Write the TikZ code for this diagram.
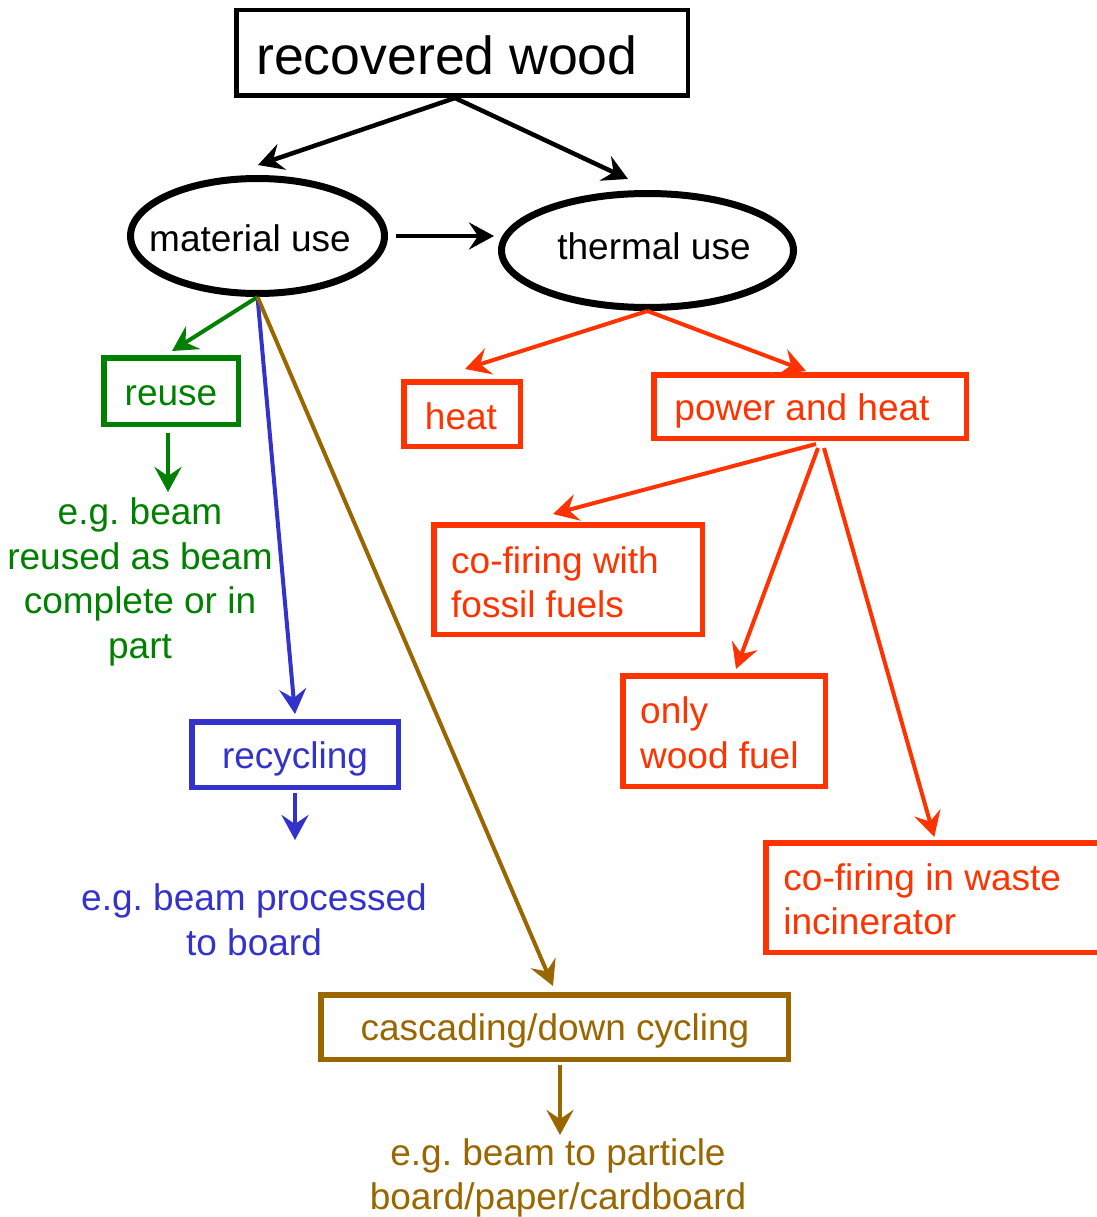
\documentclass[tikz,border=0pt]{standalone}
\usepackage{fontspec}
\setmainfont{Liberation Sans}
\usetikzlibrary{arrows.meta,shapes.geometric}
\definecolor{cgreen}{HTML}{008000}
\definecolor{cblue}{HTML}{3333CC}
\definecolor{cbrown}{HTML}{996600}
\definecolor{cred}{HTML}{FF3300}
\frenchspacing
\tikzset{
  tip/.style={-{Stealth[length=25pt,width=27pt,inset=9pt]}},
  box/.style={draw, line width=5.5pt, inner sep=0pt, rectangle},
  oval/.style={draw, line width=7pt, inner sep=0pt, ellipse},
  txt/.style={inner sep=0pt, font=\fontsize{37}{44.5}\selectfont},
  conn/.style={tip, line width=4pt},
  blk/.style={tip, line width=4.5pt},
}
\begin{document}
\begin{tikzpicture}[x=1pt,y=-1pt]
\useasboundingbox (0,0) rectangle (1096,1217);
% top
\node[box, line width=4.5pt, minimum width=451.5pt, minimum height=85.5pt] (rw) at (462,53) {};
\node[inner sep=0pt, font=\fontsize{53.6}{60}\selectfont] (rwt) at (447,55) {recovered wood};
\node[oval, minimum width=254pt, minimum height=115pt] (mat) at (257.5,236) {};
\node[txt] (matt) at (250,238) {material use};
\node[oval, minimum width=292pt, minimum height=114pt] (th) at (647.5,250.5) {};
\node[txt] (tht) at (654,246) {thermal use};
\draw[blk] ([xshift=-7pt]rw.south) -- ([xshift=0.5pt,yshift=10pt]mat.north);
\draw[blk] ([xshift=-7pt]rw.south) -- ([xshift=-19.5pt,yshift=11pt]th.north);
\draw[blk] ([xshift=8pt]mat.east) -- ([xshift=-4pt,yshift=14.5pt]th.west);
% green
\node[box, draw=cgreen, minimum width=134.5pt, minimum height=66.5pt] (reuse) at (171,391) {};
\node[txt, text=cgreen] (reuset) at (171,396) {reuse};
\draw[conn, cgreen] (mat.south) -- ([xshift=1pt,yshift=4pt]reuse.north);
\coordinate (gend) at (168,492);
\draw[conn, cgreen] ([xshift=-3pt,yshift=-6pt]reuse.south) -- (gend);
\node[txt, text=cgreen, align=center] (gtext) at (140,582) {e.g. beam\\reused as beam\\complete or in\\part};
% blue
\node[box, draw=cblue, minimum width=206.5pt, minimum height=65.5pt] (rec) at (295,754.5) {};
\node[txt, text=cblue] (rect) at (295,759) {recycling};
\draw[conn, cblue] (mat.south) -- ([yshift=5pt]rec.north);
\coordinate (bend) at (295,840);
\draw[conn, cblue] ([yshift=-3pt]rec.south) -- (bend);
\node[txt, text=cblue, align=center] (btext) at (254,920) {e.g. beam processed\\to board};
% brown
\node[box, draw=cbrown, minimum width=467.5pt, minimum height=64.5pt] (casc) at (554.5,1027) {};
\node[txt, text=cbrown] (casct) at (555,1031) {cascading/down cycling};
\draw[conn, cbrown] (mat.south) -- ([xshift=-1.5pt,yshift=6pt]casc.north);
\coordinate (brend) at (560,1135);
\draw[conn, cbrown] ([xshift=5.5pt,yshift=-3pt]casc.south) -- (brend);
\node[txt, text=cbrown, align=center] (brtext) at (558,1178) {e.g. beam to particle\\board/paper/cardboard};
% red
\node[box, draw=cred, minimum width=116.5pt, minimum height=64.5pt] (heat) at (462,414) {};
\node[txt, text=cred] (heatt) at (461,416) {heat};
\node[box, draw=cred, minimum width=312.5pt, minimum height=63.5pt] (pow) at (810,406.5) {};
\node[txt, text=cred] (powt) at (802,411) {power and heat};
\node[box, draw=cred, minimum width=268.5pt, minimum height=109.5pt] (cof) at (568,579.5) {};
\node[txt, text=cred, align=left, anchor=west] (coft) at ([xshift=20pt,yshift=-3pt]cof.west) {co-firing with\\fossil fuels};
\node[box, draw=cred, minimum width=202.5pt, minimum height=110.5pt] (owf) at (724,731) {};
\node[txt, text=cred, align=left, anchor=west] (owft) at ([xshift=20pt,yshift=-2pt]owf.west) {only\\wood fuel};
\node[box, draw=cred, minimum width=344pt, minimum height=109.5pt] (cow) at (938,897.5) {};
\node[txt, text=cred, align=left, anchor=west] (cowt) at ([xshift=20pt,yshift=-2pt]cow.west) {co-firing in waste\\incinerator};
\draw[conn, cred] (th.south) -- ([xshift=3pt,yshift=10pt]heat.north);
\draw[conn, cred] (th.south) -- ([xshift=-4pt,yshift=1pt]pow.north);
\draw[conn, cred] ([xshift=6pt,yshift=-3pt]pow.south) -- ([xshift=-15pt,yshift=8pt]cof.north);
\draw[conn, cred] ([xshift=8pt,yshift=-7pt]pow.south) -- ([xshift=12pt,yshift=4pt]owf.north);
\draw[conn, cred] ([xshift=14pt,yshift=-7pt]pow.south) -- ([xshift=171pt,yshift=3pt]cow.north west);
\end{tikzpicture}
\end{document}
